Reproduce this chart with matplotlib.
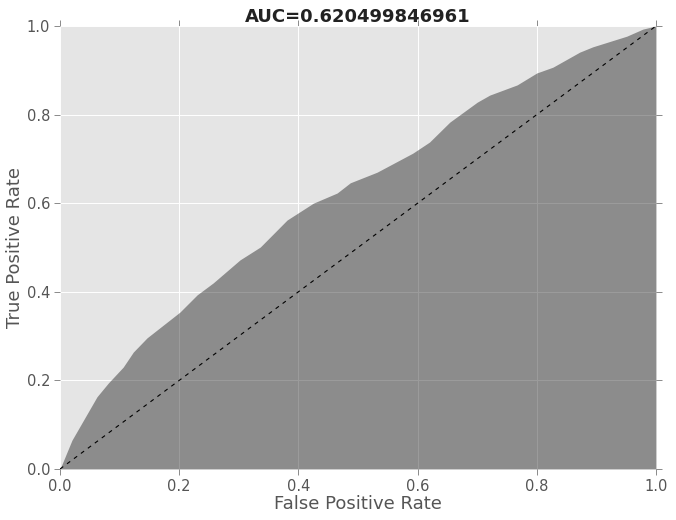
import numpy as np
import matplotlib
matplotlib.use('Agg')
import matplotlib.pyplot as plt

# ROC curve points
fpr = [0.0, 0.02, 0.062, 0.081, 0.106, 0.123, 0.146, 0.201, 0.23, 0.257,
       0.302, 0.336, 0.381, 0.425, 0.465, 0.487, 0.532, 0.592, 0.62, 0.654,
       0.70, 0.721, 0.767, 0.80, 0.827, 0.872, 0.894, 0.951, 0.978, 1.0]
tpr = [0.0, 0.065, 0.163, 0.194, 0.230, 0.264, 0.296, 0.354, 0.393, 0.42,
       0.472, 0.501, 0.562, 0.600, 0.623, 0.646, 0.670, 0.713, 0.738, 0.783,
       0.828, 0.844, 0.867, 0.894, 0.907, 0.941, 0.953, 0.977, 0.993, 1.0]
auc = 0.620499846961

tick_vals = [0.0, 0.2, 0.4, 0.6, 0.8, 1.0]


def main():
    fig = plt.figure(figsize=(6.76, 5.2), dpi=100)
    ax = fig.add_axes([0.0888, 0.0981, 0.8816, 0.8519])
    ax.set_facecolor('#E5E5E5')
    ax.set_axisbelow(True)
    ax.grid(True, color='white', linewidth=0.7)
    for s in ax.spines.values():
        s.set_visible(False)

    ax.fill_between(fpr, tpr, color='black', alpha=0.39, linewidth=0)
    # random-guess diagonal
    ax.plot([0, 1], [0, 1], color='black', linestyle=(0, (3.6, 4.2)), linewidth=0.8)

    ax.set_xlim(0, 1)
    ax.set_ylim(0, 1)
    ax.set_xticks(tick_vals)
    ax.set_yticks(tick_vals)
    ax.set_xticklabels(['%.1f' % v for v in tick_vals])
    ax.set_yticklabels(['%.1f' % v for v in tick_vals])
    ax.tick_params(direction='out', length=4, width=0.6, color='#777777',
                   labelcolor='#555555', labelsize=10.5, pad=3,
                   top=True, right=True)

    ax.set_xlabel('False Positive Rate', fontsize=13, color='#555555', labelpad=1)
    ax.set_ylabel('True Positive Rate', fontsize=13, color='#555555', labelpad=2)
    ax.set_title('AUC=%s' % repr(auc), fontsize=13, fontweight='bold',
                 color='#222222', pad=3)

    fig.savefig('out.png', dpi=100)


if __name__ == '__main__':
    main()
